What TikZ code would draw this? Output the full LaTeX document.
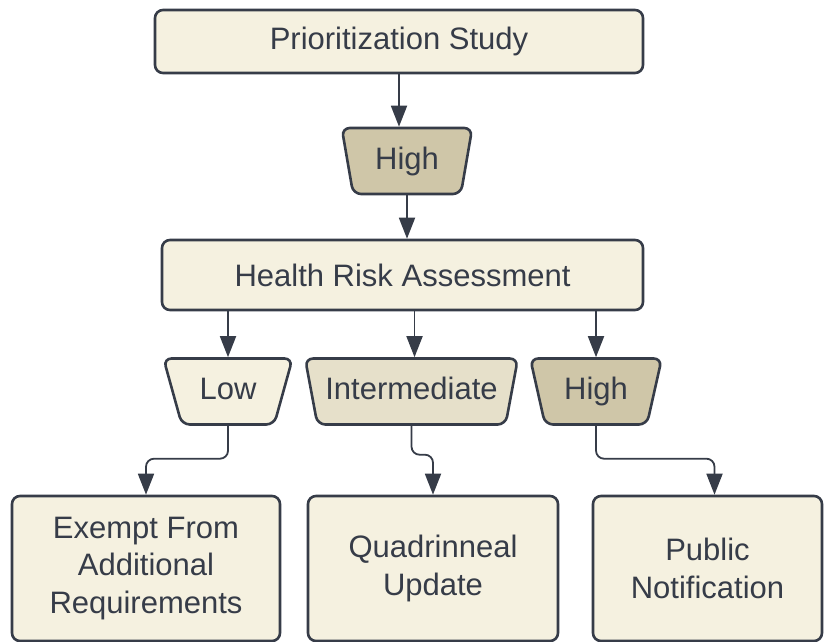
\documentclass[tikz,border=0pt]{standalone}
\usepackage{fontspec}
\setmainfont{Liberation Sans}
\usetikzlibrary{shapes,arrows.meta,calc}
\definecolor{ink}{HTML}{363C48}
\definecolor{cream}{HTML}{F5F1E0}
\definecolor{sand}{HTML}{E6E0CA}
\definecolor{khaki}{HTML}{CFC6A8}
\tikzset{
  cbox/.style = { draw=ink, line width=2.6pt, rounded corners=8pt, fill=cream,
    text=ink, align=center, inner sep=0pt },
  trap/.style = { draw=ink, line width=2.6pt, rounded corners=8pt, trapezium,
    shape border rotate=180, trapezium left angle=#1, trapezium right angle=#1,
    trapezium stretches=true, minimum height=66pt, text=ink, inner xsep=0pt,
    text height=22pt, text depth=6pt },
  arr/.style  = { draw=ink, line width=1.8pt, -{Triangle[width=16pt,length=21pt]} }
}

\begin{document}
\begin{tikzpicture}[x=1pt,y=-1pt,font=\fontsize{31}{37.5}\selectfont]
  \useasboundingbox (0,0) rectangle (825,641);
  % study and first filter
  \node[cbox, minimum width=488pt, minimum height=63pt] (prio) at (399,41.5) {Prioritization Study};
  \node[trap=79, fill=khaki, minimum width=131pt] (hi0) at (407,161) {High};
  \node[cbox, minimum width=481pt, minimum height=70pt] (hra) at (402.5,275) {Health Risk Assessment};
  % risk levels
  \node[trap=72, fill=cream, minimum width=130pt] (lo) at (228,391.5) {Low};
  \node[trap=72, fill=sand, minimum width=213pt] (mid) at (411.5,391.5) {Intermediate};
  \node[trap=75, fill=khaki, minimum width=132pt] (hi) at (596,391.5) {High};
  % outcomes
  \node[cbox, minimum width=268pt, minimum height=145pt] (exm) at (146,568.5) {Exempt From\\Additional\\Requirements};
  \node[cbox, minimum width=250pt, minimum height=145pt] (quad) at (433,568.5) {Quadrinneal\\Update};
  \node[cbox, minimum width=229pt, minimum height=145pt] (pub) at (707.5,568.5) {Public\\Notification};

  \draw[arr] (prio.south) -- (prio.south |- hi0.north);
  \draw[arr] (hi0.south) -- (hi0.south |- hra.north);
  \draw[arr] (hra.south -| lo.north) -- (lo.north);
  \draw[arr] ([xshift=3pt]hra.south -| mid.north) -- ([xshift=3pt]mid.north);
  \draw[arr] (hra.south -| hi.north) -- (hi.north);
  \draw[arr, rounded corners=8pt] (lo.south) |- ($(exm.north)+(0,-36)$) -- (exm.north);
  \draw[arr, rounded corners=8pt] (mid.south) |- ($(quad.north)+(0,-40)$) -- (quad.north);
  \draw[arr, rounded corners=8pt] (hi.south) |- ($([xshift=7pt]pub.north)+(0,-36)$) -- ([xshift=7pt]pub.north);
\end{tikzpicture}
\end{document}
